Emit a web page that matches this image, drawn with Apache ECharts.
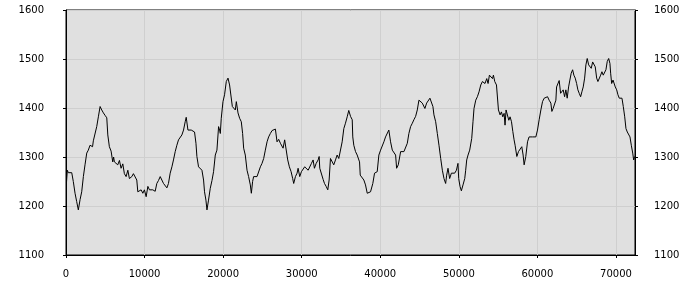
<!DOCTYPE html>
<html>
<head>
<meta charset="utf-8">
<script src="https://cdn.jsdelivr.net/npm/echarts@6/dist/echarts.min.js"></script>
<style>
html,body{margin:0;padding:0;background:#fff;}
#chart{width:700px;height:300px;}
</style>
</head>
<body>
<div id="chart"></div>
<script>
var xs = [60,170,290,510,730,930,1150,1360,1470,1570,1790,2000,2210,2420,2640,2840,3060,3280,3380,3480,3700,3910,4120,4340,4550,4760,4970,5190,5320,5520,5740,5950,6060,6160,6380,6590,6800,7010,7230,7430,7650,7870,8070,8380,8580,8800,9010,9140,9350,9560,9780,9980,10200,10420,10620,10840,11050,11260,11350,11560,11770,11990,12200,12410,12620,12840,13040,13260,13480,13680,13900,14110,14320,14540,14750,14960,15170,15300,15520,15720,15940,16150,16360,16540,16660,16870,17090,17300,17510,17630,17810,17940,18140,18360,18580,18780,19000,19210,19420,19550,19640,19760,19980,20180,20400,20620,20820,21040,21170,21330,21550,21680,21890,22100,22310,22480,22610,22820,23040,23240,23460,23590,23750,23880,24100,24310,24520,24740,24950,25160,25370,25590,25790,26010,26230,26430,26650,26860,27070,27290,27500,27630,27830,28050,28220,28430,28650,28850,28980,29200,29410,29540,29750,29960,30180,30380,30600,30820,31020,31240,31450,31620,31840,32090,32220,32300,32510,32730,32900,33110,33320,33490,33660,33880,34080,34300,34510,34720,34940,35150,35360,35570,35790,35990,36210,36430,36500,36630,36850,37060,37190,37360,37450,37700,37910,38120,38340,38540,38760,38890,39050,39270,39490,39610,39820,40040,40250,40460,40670,40890,41090,41310,41530,41730,41950,42080,42290,42460,42590,42800,43010,43220,43440,43640,43860,44080,44280,44500,44710,44920,45140,45350,45560,45680,45900,46120,46320,46540,46700,46830,47050,47260,47470,47690,47900,48110,48320,48450,48620,48830,49050,49250,49470,49690,49890,49980,50150,50320,50530,50750,50870,51000,51170,51380,51510,51640,51800,51930,52150,52360,52570,52790,53000,53210,53330,53550,53720,53890,54100,54280,54400,54570,54790,54950,55040,55250,55420,55590,55760,55880,56010,56190,56360,56520,56700,56870,57030,57160,57380,57590,57800,58010,58180,58310,58520,58740,58940,59160,59380,59580,59800,60010,60220,60440,60650,60860,61070,61290,61490,61710,61840,62000,62180,62350,62440,62600,62770,62950,63110,63280,63460,63620,63790,63970,64130,64300,64480,64640,64810,64990,65150,65320,65500,65660,65830,66010,66170,66340,66520,66680,66850,67030,67190,67360,67540,67700,67870,68050,68210,68380,68560,68720,68890,69070,69230,69320,69450,69620,69740,69910,70090,70250,70420,70600,70760,70930,71110,71270,71440,71620,71780,71950,72130,72250,72380];
var ys = [1248,1273,1268,1266,1268,1250,1226,1209,1205,1192,1213,1229,1260,1284,1308,1314,1324,1327,1321,1333,1329,1362,1382,1403,1396,1390,1385,1380,1345,1321,1312,1290,1300,1290,1293,1284,1293,1277,1286,1266,1260,1273,1256,1260,1266,1263,1253,1229,1226,1233,1226,1233,1219,1240,1233,1233,1233,1236,1230,1246,1252,1260,1263,1246,1243,1237,1246,1267,1280,1294,1311,1324,1335,1335,1345,1355,1372,1381,1355,1358,1355,1355,1351,1328,1301,1280,1278,1273,1253,1229,1212,1192,1212,1236,1252,1270,1304,1314,1362,1355,1348,1379,1413,1427,1454,1461,1447,1444,1403,1399,1396,1413,1390,1379,1372,1348,1318,1304,1273,1260,1243,1226,1250,1260,1256,1260,1263,1280,1287,1297,1314,1331,1341,1348,1354,1354,1357,1331,1336,1328,1325,1318,1335,1336,1294,1280,1270,1256,1246,1260,1267,1277,1260,1270,1273,1280,1281,1273,1270,1287,1294,1277,1287,1294,1301,1277,1273,1254,1246,1240,1233,1253,1297,1301,1284,1294,1304,1297,1294,1331,1358,1369,1382,1395,1383,1376,1341,1324,1311,1304,1307,1290,1263,1267,1253,1243,1226,1224,1229,1226,1246,1267,1263,1270,1304,1314,1318,1331,1341,1345,1355,1331,1314,1311,1304,1277,1284,1287,1311,1307,1311,1314,1328,1348,1362,1369,1376,1383,1396,1416,1420,1410,1413,1399,1410,1413,1420,1423,1403,1386,1372,1348,1324,1297,1273,1256,1246,1263,1277,1256,1267,1270,1267,1273,1287,1256,1240,1231,1243,1256,1273,1294,1304,1314,1318,1338,1372,1399,1416,1423,1433,1447,1454,1457,1450,1460,1450,1467,1464,1460,1467,1454,1447,1443,1396,1386,1392,1382,1389,1365,1396,1392,1375,1382,1372,1352,1335,1324,1301,1311,1307,1321,1304,1284,1301,1331,1341,1338,1341,1345,1341,1355,1376,1396,1413,1420,1416,1423,1416,1410,1393,1399,1403,1416,1443,1447,1456,1430,1427,1437,1423,1437,1420,1443,1457,1471,1478,1467,1461,1450,1437,1430,1423,1433,1443,1461,1488,1501,1488,1491,1481,1494,1497,1484,1461,1454,1450,1467,1474,1467,1471,1478,1495,1501,1491,1471,1450,1457,1454,1443,1437,1427,1420,1421,1420,1403,1382,1358,1351,1348,1341,1324,1308,1294,1301];
var xMin = 0, xMax = 72420, xStep = 10000;
var yMin = 1100, yMax = 1600, yStep = 100;

var chart = echarts.init(document.getElementById('chart'), null, {renderer: 'canvas'});
function plain(v) { return String(v); }
var font = {fontFamily: 'DejaVu Sans', fontSize: 10, color: '#000', formatter: plain};
function yAxisDef(pos, margin, split) {
  return {
    type: 'value', position: pos, min: yMin, max: yMax, interval: yStep,
    axisLine: {show: true, onZero: false, lineStyle: {color: '#000', width: 1}},
    axisTick: {show: true, length: 3, inside: false, lineStyle: {color: '#000'}},
    axisLabel: Object.assign({margin: margin}, font),
    splitLine: {show: split, lineStyle: {color: '#cfcfcf', width: 1}}
  };
}
chart.setOption({
  animation: false,
  backgroundColor: '#fff',
  grid: {left: 66, right: 65, top: 10, bottom: 45, show: true, backgroundColor: '#e0e0e0', borderColor: '#000', borderWidth: 1},
  xAxis: {
    type: 'value', min: xMin, max: xMax, interval: xStep,
    axisLine: {show: true, onZero: false, lineStyle: {color: '#000', width: 1}},
    axisTick: {show: true, length: 3, inside: false, lineStyle: {color: '#000'}},
    axisLabel: Object.assign({margin: 14, showMaxLabel: false}, font),
    splitLine: {show: true, lineStyle: {color: '#cfcfcf', width: 1}}
  },
  yAxis: [yAxisDef('left', 22, true), yAxisDef('right', 19, false)],
  series: [{
    type: 'line',
    yAxisIndex: 0,
    data: xs.map(function (x, i) { return [x, ys[i]]; }),
    showSymbol: false,
    symbol: 'none',
    lineStyle: {color: '#000', width: 1},
    silent: true
  }]
});
</script>
</body>
</html>
